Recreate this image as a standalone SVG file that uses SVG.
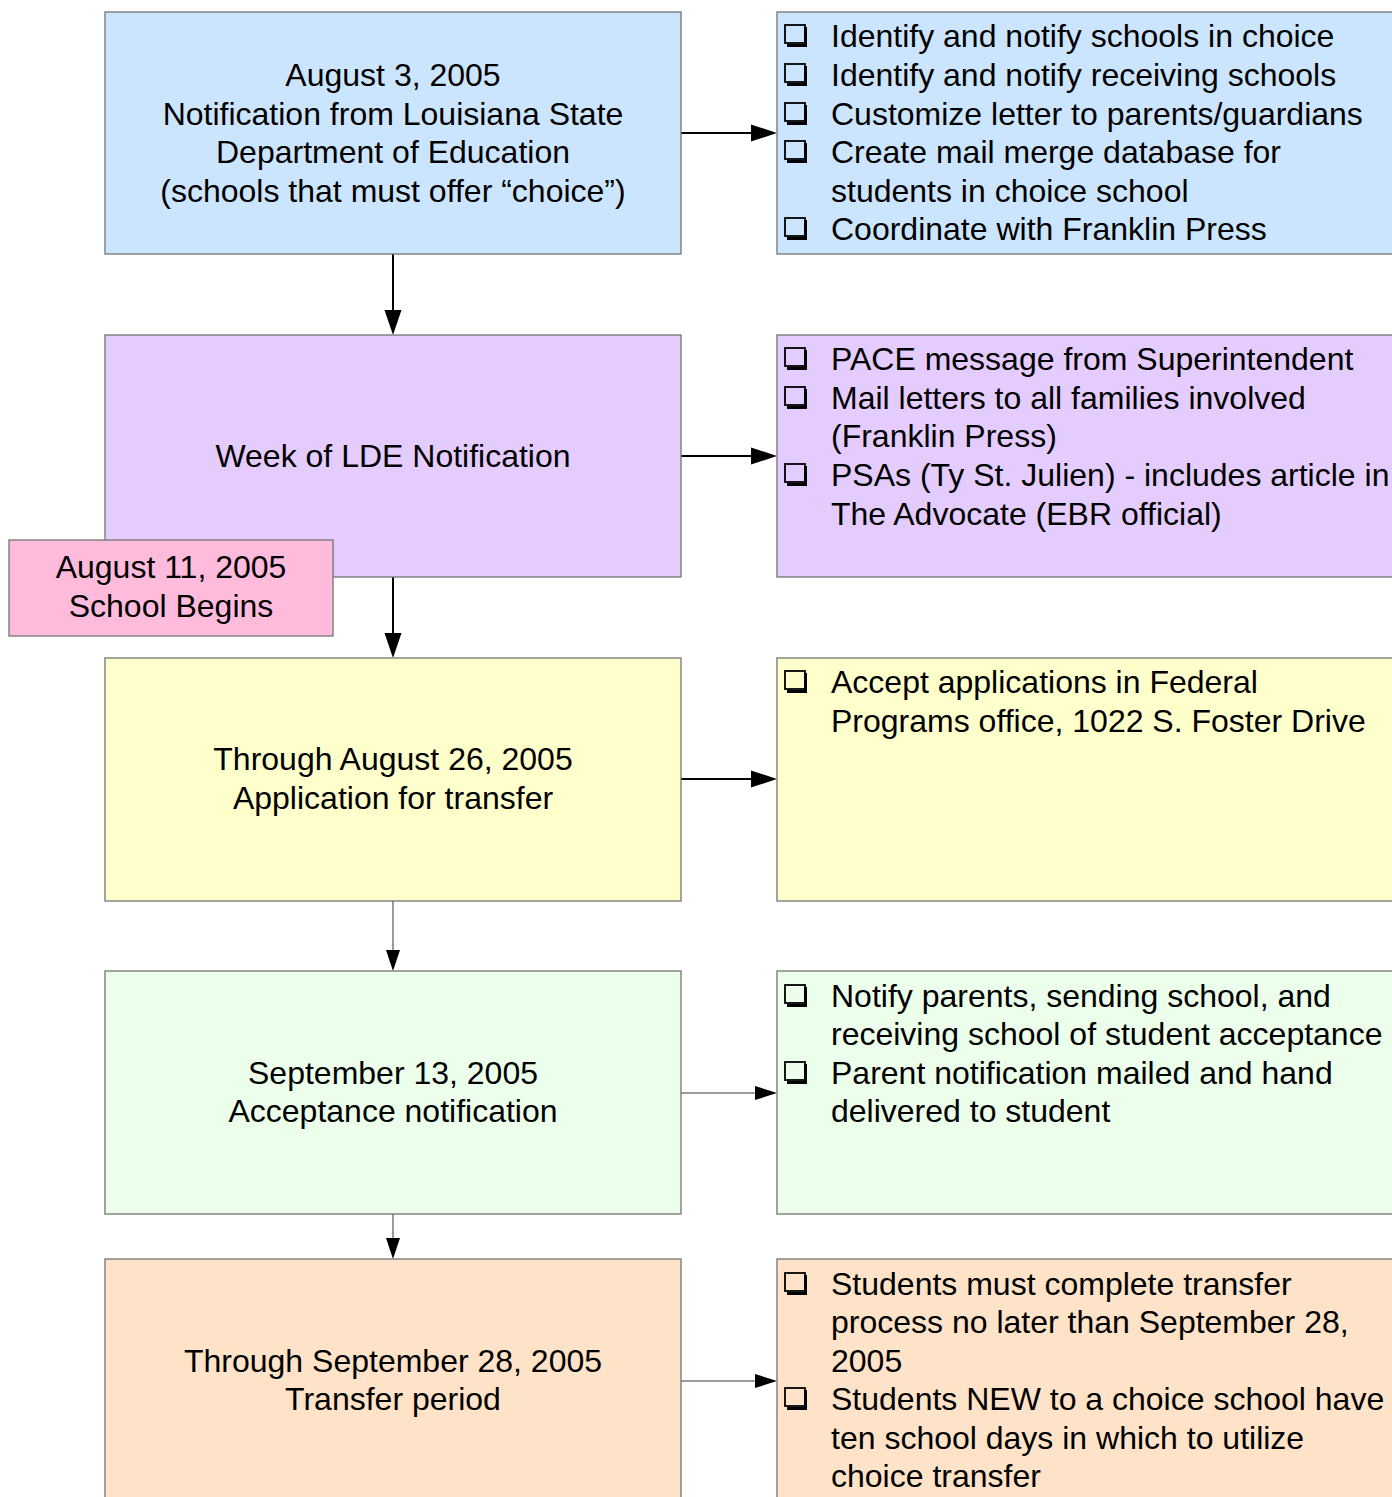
<svg xmlns="http://www.w3.org/2000/svg" xmlns:xlink="http://www.w3.org/1999/xlink" width="1392" height="1497" viewBox="0 0 1392 1497">
<style>
text{font-family:"Liberation Sans",Arial,sans-serif;font-size:32px;fill:#000}
.c{text-anchor:middle}
.box{stroke:#737373;stroke-width:1.3}
.b1{fill:#CCE5FF}.b2{fill:#E5CCFF}.b3{fill:#FFFFCC}.b4{fill:#EBFFEB}.b5{fill:#FFE3C8}.pk{fill:#FFBBDB}
.lk{stroke:#000;stroke-width:2;fill:none}
.lt{stroke:#7a7a7a;stroke-width:1.5;fill:none}
.ah{fill:#000}
</style>
<defs>
<g id="cb">
<rect x="1" y="-22" width="20" height="18" fill="none" stroke="#000" stroke-width="1.8"/>
<path d="M21.5 -20 V-1.5 H3" fill="none" stroke="#000" stroke-width="3"/>
</g>
</defs>
<rect width="1392" height="1497" fill="#fff"/>

<g id="connectors">
<path class="lk" d="M393 254 V312"/><polygon class="ah" points="384.5,310 401.5,310 393,335"/>
<path class="lk" d="M393 577 V635"/><polygon class="ah" points="384.5,633 401.5,633 393,658"/>
<path class="lt" d="M393 901 V952"/><polygon class="ah" points="386,950 400,950 393,971"/>
<path class="lt" d="M393 1214 V1240"/><polygon class="ah" points="386,1238 400,1238 393,1259"/>
<path class="lk" d="M681 133 H753"/><polygon class="ah" points="751,124.5 751,141.5 777,133"/>
<path class="lk" d="M681 456 H753"/><polygon class="ah" points="751,447.5 751,464.5 777,456"/>
<path class="lk" d="M681 779 H753"/><polygon class="ah" points="751,770.5 751,787.5 777,779"/>
<path class="lt" d="M681 1093 H757"/><polygon class="ah" points="755,1086 755,1100 777,1093"/>
<path class="lt" d="M681 1381 H757"/><polygon class="ah" points="755,1374 755,1388 777,1381"/>
</g>

<g id="n1">
<rect class="box b1" x="105" y="12" width="576" height="242"/>
<text class="c" x="393" y="86">August 3, 2005</text>
<text class="c" x="393" y="125">Notification from Louisiana State</text>
<text class="c" x="393" y="163">Department of Education</text>
<text class="c" x="393" y="202">(schools that must offer “choice”)</text>
</g>
<g id="n1r">
<rect class="box b1" x="777" y="12" width="630" height="242"/>
<use xlink:href="#cb" x="784" y="47"/><text x="831" y="47">Identify and notify schools in choice</text>
<use xlink:href="#cb" x="784" y="86"/><text x="831" y="86">Identify and notify receiving schools</text>
<use xlink:href="#cb" x="784" y="125"/><text x="831" y="125">Customize letter to parents/guardians</text>
<use xlink:href="#cb" x="784" y="163"/><text x="831" y="163">Create mail merge database for</text>
<text x="831" y="202">students in choice school</text>
<use xlink:href="#cb" x="784" y="240"/><text x="831" y="240">Coordinate with Franklin Press</text>
</g>

<g id="n2">
<rect class="box b2" x="105" y="335" width="576" height="242"/>
<text class="c" x="393" y="467">Week of LDE Notification</text>
</g>
<g id="n2r">
<rect class="box b2" x="777" y="335" width="630" height="242"/>
<use xlink:href="#cb" x="784" y="370"/><text x="831" y="370">PACE message from Superintendent</text>
<use xlink:href="#cb" x="784" y="409"/><text x="831" y="409">Mail letters to all families involved</text>
<text x="831" y="447">(Franklin Press)</text>
<use xlink:href="#cb" x="784" y="486"/><text x="831" y="486">PSAs (Ty St. Julien) - includes article in</text>
<text x="831" y="525">The Advocate (EBR official)</text>
</g>

<g id="school">
<rect class="box pk" x="9" y="540" width="324" height="96"/>
<text class="c" x="171" y="578">August 11, 2005</text>
<text class="c" x="171" y="617">School Begins</text>
</g>

<g id="n3">
<rect class="box b3" x="105" y="658" width="576" height="243"/>
<text class="c" x="393" y="770">Through August 26, 2005</text>
<text class="c" x="393" y="809">Application for transfer</text>
</g>
<g id="n3r">
<rect class="box b3" x="777" y="658" width="630" height="243"/>
<use xlink:href="#cb" x="784" y="693"/><text x="831" y="693">Accept applications in Federal</text>
<text x="831" y="732">Programs office, 1022 S. Foster Drive</text>
</g>

<g id="n4">
<rect class="box b4" x="105" y="971" width="576" height="243"/>
<text class="c" x="393" y="1084">September 13, 2005</text>
<text class="c" x="393" y="1122">Acceptance notification</text>
</g>
<g id="n4r">
<rect class="box b4" x="777" y="971" width="630" height="243"/>
<use xlink:href="#cb" x="784" y="1007"/><text x="831" y="1007">Notify parents, sending school, and</text>
<text x="831" y="1045">receiving school of student acceptance</text>
<use xlink:href="#cb" x="784" y="1084"/><text x="831" y="1084">Parent notification mailed and hand</text>
<text x="831" y="1122">delivered to student</text>
</g>

<g id="n5">
<rect class="box b5" x="105" y="1259" width="576" height="260"/>
<text class="c" x="393" y="1372">Through September 28, 2005</text>
<text class="c" x="393" y="1410">Transfer period</text>
</g>
<g id="n5r">
<rect class="box b5" x="777" y="1259" width="630" height="260"/>
<use xlink:href="#cb" x="784" y="1295"/><text x="831" y="1295">Students must complete transfer</text>
<text x="831" y="1333">process no later than September 28,</text>
<text x="831" y="1372">2005</text>
<use xlink:href="#cb" x="784" y="1410"/><text x="831" y="1410">Students NEW to a choice school have</text>
<text x="831" y="1449">ten school days in which to utilize</text>
<text x="831" y="1487">choice transfer</text>
</g>
</svg>
